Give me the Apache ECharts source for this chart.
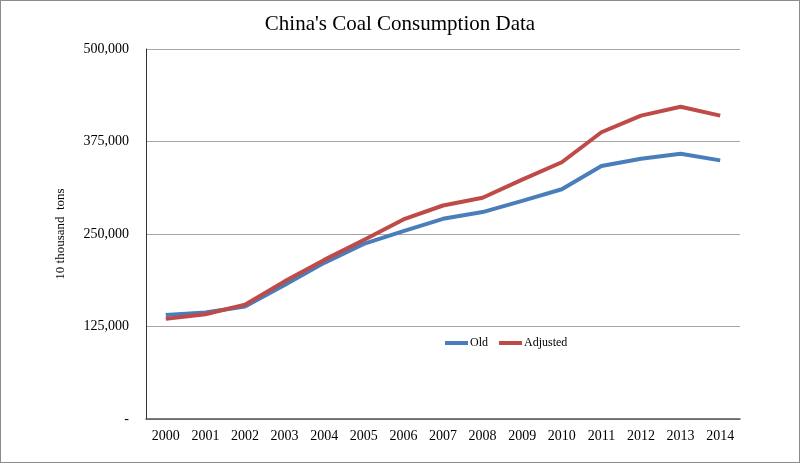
<!DOCTYPE html>
<html>
<head>
<meta charset="utf-8">
<script src="https://cdn.jsdelivr.net/npm/echarts@6/dist/echarts.min.js"></script>
<style>
html,body{margin:0;padding:0;background:#fff;}
#chart{width:800px;height:463px;box-sizing:border-box;border:1px solid #8c8c8c;}
</style>
</head>
<body>
<div id="chart"></div>
<script>
const years = ['2000','2001','2002','2003','2004','2005','2006','2007','2008','2009','2010','2011','2012','2013','2014'];
const oldValues = [140700,144000,152000,181000,211000,236600,254000,270500,279600,294800,310500,341800,351700,358400,349500];
const adjustedValues = [135300,141500,154500,186000,215000,242000,269700,288500,299000,323500,347000,387500,410000,422000,410000];
const yTicks = [0,125000,250000,375000,500000];

const chart = echarts.init(document.getElementById('chart'), null, {renderer:'canvas'});
const serif = '"Liberation Serif","Times New Roman",serif';
chart.setOption({
  animation:false,
  title:{text:"China's Coal Consumption Data",left:'center',top:8,
    textStyle:{fontFamily:serif,fontWeight:'normal',fontSize:21,color:'#000'}},
  legend:{data:['Old','Adjusted'],left:439,top:331,itemWidth:23,itemHeight:4,itemGap:11,
    icon:'rect',textStyle:{fontFamily:serif,fontSize:12,color:'#000',padding:[0,0,0,-3]}},
  grid:{left:145,right:59,top:48,bottom:43,containLabel:false},
  xAxis:{type:'category',data:years,boundaryGap:true,
    axisLine:{lineStyle:{color:'#555',width:1.5}},axisTick:{show:false},
    axisLabel:{fontFamily:serif,fontSize:14,color:'#000',margin:10}},
  yAxis:{type:'value',min:0,max:500000,interval:125000,
    name:'10 thousand  tons',nameLocation:'middle',nameGap:79,nameRotate:90,
    nameTextStyle:{fontFamily:serif,fontSize:13,color:'#000'},
    axisLine:{show:true,lineStyle:{color:'#333',width:1}},axisTick:{show:false},
    splitLine:{lineStyle:{color:'#a6a6a6',width:1.2}},
    axisLabel:{fontFamily:serif,fontSize:14,color:'#000',margin:17,
      formatter:function(v){return v===0?'-':v.toLocaleString('en-US');}}},
  series:[
    {name:'Old',type:'line',data:oldValues,symbol:'none',
      lineStyle:{color:'#4a7ebb',width:4},itemStyle:{color:'#4a7ebb'}},
    {name:'Adjusted',type:'line',data:adjustedValues,symbol:'none',
      lineStyle:{color:'#be4b48',width:4},itemStyle:{color:'#be4b48'}}
  ]
});
</script>
</body>
</html>
